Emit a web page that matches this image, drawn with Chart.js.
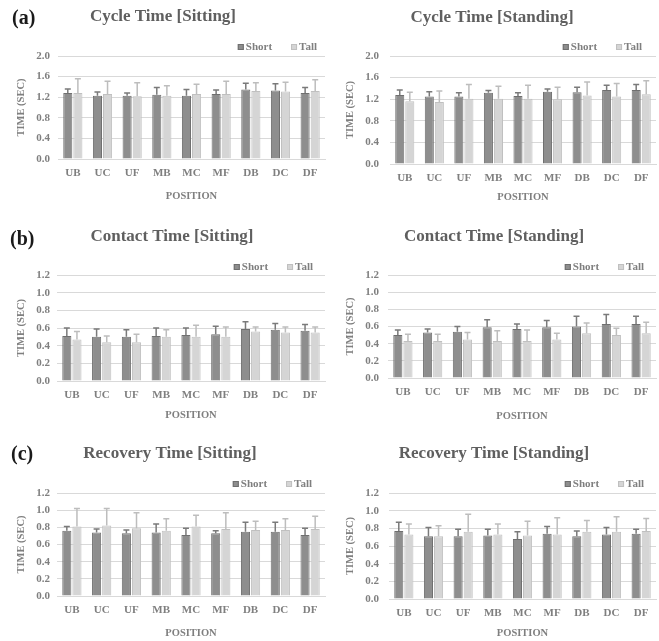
<!DOCTYPE html>
<html>
<head>
<meta charset="utf-8">
<script src="https://cdn.jsdelivr.net/npm/chart.js@4/dist/chart.umd.min.js"></script>
<style>
  html,body{margin:0;padding:0;background:#fff;}
  #wrap{position:relative;width:659px;height:641px;overflow:hidden;}
  canvas{position:absolute;}
</style>
</head>
<body>
<div id="wrap"></div>
<script>
const positions = ['UB','UC','UF','MB','MC','MF','DB','DC','DF'];
const groups = ['Short','Tall'];
const titles = ['Cycle Time [Sitting]','Cycle Time [Standing]','Contact Time [Sitting]','Contact Time [Standing]','Recovery Time [Sitting]','Recovery Time [Standing]'];
const tags = ['(a)','','(b)','','(c)',''];

// mean values + upper SD
const cycleSitShort     = [1.28,1.23,1.23,1.25,1.23,1.26,1.35,1.33,1.28];
const cycleSitShortErr  = [0.08,0.07,0.05,0.14,0.12,0.08,0.12,0.13,0.11];
const cycleSitTall      = [1.28,1.26,1.22,1.23,1.26,1.26,1.32,1.31,1.32];
const cycleSitTallErr   = [0.28,0.25,0.26,0.19,0.19,0.25,0.16,0.18,0.22];

const cycleStandShort    = [1.28,1.25,1.25,1.32,1.26,1.34,1.33,1.37,1.37];
const cycleStandShortErr = [0.09,0.09,0.07,0.04,0.06,0.05,0.09,0.09,0.10];
const cycleStandTall     = [1.16,1.15,1.21,1.21,1.21,1.20,1.27,1.25,1.29];
const cycleStandTallErr  = [0.17,0.20,0.26,0.23,0.25,0.22,0.25,0.24,0.25];

const contactSitShort    = [0.51,0.50,0.50,0.51,0.52,0.53,0.59,0.58,0.57];
const contactSitShortErr = [0.09,0.09,0.08,0.09,0.08,0.09,0.08,0.07,0.07];
const contactSitTall     = [0.47,0.44,0.44,0.50,0.50,0.50,0.56,0.55,0.55];
const contactSitTallErr  = [0.09,0.07,0.09,0.08,0.13,0.11,0.05,0.06,0.06];

const contactStandShort    = [0.50,0.53,0.54,0.59,0.57,0.59,0.60,0.63,0.63];
const contactStandShortErr = [0.06,0.04,0.06,0.09,0.06,0.08,0.12,0.11,0.09];
const contactStandTall     = [0.43,0.43,0.45,0.43,0.43,0.45,0.52,0.50,0.52];
const contactStandTallErr  = [0.08,0.08,0.08,0.12,0.13,0.07,0.12,0.08,0.13];

const recoverySitShort    = [0.76,0.74,0.73,0.74,0.71,0.73,0.75,0.75,0.71];
const recoverySitShortErr = [0.05,0.04,0.04,0.10,0.08,0.03,0.11,0.11,0.08];
const recoverySitTall     = [0.81,0.82,0.79,0.76,0.81,0.78,0.77,0.77,0.78];
const recoverySitTallErr  = [0.21,0.20,0.18,0.14,0.13,0.19,0.10,0.13,0.15];

const recoveryStandShort    = [0.77,0.71,0.71,0.72,0.68,0.74,0.71,0.73,0.74];
const recoveryStandShortErr = [0.10,0.10,0.08,0.07,0.08,0.08,0.06,0.08,0.05];
const recoveryStandTall     = [0.73,0.71,0.76,0.73,0.72,0.73,0.76,0.76,0.77];
const recoveryStandTallErr  = [0.12,0.12,0.20,0.12,0.16,0.19,0.13,0.17,0.14];

const yMax  = [2.0,2.0,1.2,1.2,1.2,1.2];
const yStep = [0.4,0.4,0.2,0.2,0.2,0.2];

const series = [
  [cycleSitShort, cycleSitShortErr, cycleSitTall, cycleSitTallErr],
  [cycleStandShort, cycleStandShortErr, cycleStandTall, cycleStandTallErr],
  [contactSitShort, contactSitShortErr, contactSitTall, contactSitTallErr],
  [contactStandShort, contactStandShortErr, contactStandTall, contactStandTallErr],
  [recoverySitShort, recoverySitShortErr, recoverySitTall, recoverySitTallErr],
  [recoveryStandShort, recoveryStandShortErr, recoveryStandTall, recoveryStandTallErr],
];

// layout of each panel (canvas box, plot rect [l,t,r,b] in canvas coords, text spots)
const boxes = [
  {x:0,   y:0,   w:329, h:210, plot:[58,56,325,159], tx:163, ty:17, tagX:12, tagY:19, legR:317, legY:47, xtPad:7},
  {x:329, y:0,   w:330, h:210, plot:[61,56,327,164], tx:163, ty:18, tagX:0,  tagY:0,  legR:313, legY:47, xtPad:6},
  {x:0,   y:210, w:329, h:215, plot:[57,65,325,171], tx:172, ty:27, tagX:10, tagY:30, legR:313, legY:57, xtPad:3},
  {x:329, y:210, w:330, h:215, plot:[59,65,327,168], tx:165, ty:27, tagX:0,  tagY:0,  legR:315, legY:57, xtPad:2},
  {x:0,   y:425, w:329, h:216, plot:[57,68,325,171], tx:170, ty:29, tagX:11, tagY:30, legR:312, legY:59, xtPad:1},
  {x:329, y:425, w:330, h:216, plot:[60,68,327,174], tx:165, ty:29, tagX:0,  tagY:0,  legR:315, legY:59, xtPad:1},
];

const SERIF = '"Liberation Serif", "Times New Roman", serif';
Chart.defaults.font.family = SERIF;
Chart.defaults.font.weight = 'bold';
Chart.defaults.color = '#7f7f7f';

const errorBars = {
  id:'errorBars',
  afterDatasetsDraw(c){
    const ctx = c.ctx, y = c.scales.y;
    ctx.save();
    c.data.datasets.forEach((d,i)=>{
      c.getDatasetMeta(i).data.forEach((bar,j)=>{
        const top = y.getPixelForValue(d.data[j] + d.err[j]);
        ctx.strokeStyle = d.errColor; ctx.lineWidth = 1.5;
        ctx.beginPath();
        ctx.moveTo(bar.x, bar.y); ctx.lineTo(bar.x, top);
        ctx.moveTo(bar.x-3, top); ctx.lineTo(bar.x+3, top);
        ctx.stroke();
      });
    });
    ctx.restore();
  }
};

const panelText = {
  id:'panelText',
  afterDraw(c, args, o){
    const ctx = c.ctx; ctx.save();
    ctx.textBaseline = 'middle';
    if (o.tag){
      ctx.font = `bold 20px ${SERIF}`; ctx.fillStyle = '#1a1a1a'; ctx.textAlign = 'left';
      ctx.fillText(o.tag, o.tagX, o.tagY);
    }
    ctx.font = `bold 17px ${SERIF}`; ctx.fillStyle = '#5f5f5f'; ctx.textAlign = 'center';
    ctx.fillText(o.title, o.tx, o.ty);
    // legend, right aligned
    ctx.font = `bold 11px ${SERIF}`; ctx.textAlign = 'left';
    const box = 6, gapT = 2, gapI = 19;
    const items = c.data.datasets.map(d=>({d, w:ctx.measureText(d.label).width}));
    let x = o.legR - items.reduce((s,it)=>s+box+gapT+it.w,0) - gapI*(items.length-1);
    items.forEach(({d,w})=>{
      ctx.fillStyle = d.backgroundColor; ctx.fillRect(x, o.legY-box/2, box, box);
      ctx.strokeStyle = d.borderColor; ctx.lineWidth = 1; ctx.strokeRect(x+0.5, o.legY-box/2+0.5, box-1, box-1);
      ctx.fillStyle = '#7f7f7f'; ctx.fillText(d.label, x+box+gapT, o.legY+0.5);
      x += box + gapT + w + gapI;
    });
    ctx.restore();
  }
};

const wrap = document.getElementById('wrap');
boxes.forEach((b,k)=>{
  const cv = document.createElement('canvas');
  cv.width = b.w; cv.height = b.h;
  cv.style.left = b.x+'px'; cv.style.top = b.y+'px';
  wrap.appendChild(cv);
  const [sv, se, tv, te] = series[k];
  const [pl, pt, pr, pb] = b.plot;
  new Chart(cv, {
    type:'bar',
    data:{
      labels: positions,
      datasets:[
        { label:groups[0], data:sv, err:se, backgroundColor:'#8e8e8e', borderColor:'#6f6f6f', borderWidth:1, errColor:'#7a7a7a' },
        { label:groups[1], data:tv, err:te, backgroundColor:'#d5d5d5', borderColor:'#c0c0c0', borderWidth:1, errColor:'#bdbdbd' },
      ]
    },
    options:{
      responsive:false, animation:false,
      layout:{ padding:{ top:pt, right:b.w-pr, left:0, bottom:0 } },
      datasets:{ bar:{ categoryPercentage:0.68, barPercentage:0.9 } },
      plugins:{
        legend:{ display:false }, title:{ display:false }, tooltip:{ enabled:false },
        panelText:{ title:titles[k], tag:tags[k], tx:b.tx, ty:b.ty, tagX:b.tagX, tagY:b.tagY, legR:b.legR, legY:b.legY }
      },
      scales:{
        x:{
          grid:{ display:false, drawTicks:false },
          border:{ color:'#d9d9d9', width:1 },
          ticks:{ font:{ size:11 }, padding:8, color:'#7f7f7f' },
          title:{ display:true, text:'POSITION', font:{ size:10.5 }, color:'#7f7f7f', padding:{ top:0, bottom:b.xtPad } },
          afterFit: s => { s.height = b.h - pb; }
        },
        y:{
          min:0, max:yMax[k],
          grid:{ color:'#d9d9d9', drawTicks:false },
          border:{ display:false },
          ticks:{ stepSize:yStep[k], font:{ size:11 }, padding:pl-50, color:'#7f7f7f', callback:v=>Number(v).toFixed(1) },
          title:{ display:true, text:'TIME (SEC)', font:{ size:10.5 }, color:'#7f7f7f', padding:{ top:15, bottom:0 } },
          afterFit: s => { s.width = pl; }
        }
      }
    },
    plugins:[errorBars, panelText]
  });
});
</script>
</body>
</html>
